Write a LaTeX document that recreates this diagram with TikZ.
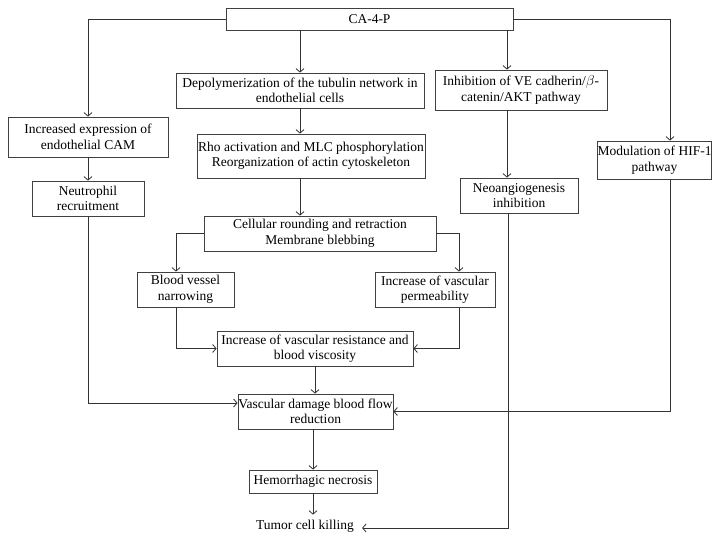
\documentclass[tikz,border=0pt]{standalone}
\usepackage{fontspec}
\setmainfont{Liberation Serif}
\usetikzlibrary{arrows.meta}

\begin{document}
\begin{tikzpicture}[x=1pt, y=-1pt,
  font=\fontsize{13.5}{15.5}\selectfont,
  box/.style={draw=black!75, line width=0.8pt, align=center, inner sep=0pt},
  link/.style={draw=black!80, line width=0.8pt, -{Straight Barb[length=3.5pt,width=8pt]}}]
  \useasboundingbox (0,0) rectangle (725,541);
  \node[box, minimum width=287, minimum height=22] (ca) at (369.5,19) {CA-4-P};
  \node[box, minimum width=248, minimum height=35] (depol) at (300,90.5)
    {Depolymerization of the tubulin network in\\endothelial cells};
  \node[box, minimum width=172, minimum height=40] (inhib) at (521,90)
    {Inhibition of VE cadherin/$\beta$-\\catenin/AKT pathway};
  \node[box, minimum width=160, minimum height=40] (incr) at (88,137)
    {Increased expression of\\endothelial CAM};
  \node[box, minimum width=112, minimum height=35] (neutro) at (88,198.5)
    {Neutrophil\\recruitment};
  \node[box, minimum width=228, minimum height=44] (rho) at (311,156)
    {Rho activation and MLC phosphorylation\\Reorganization of actin cytoskeleton};
  \node[box, minimum width=107, minimum height=38] (mod) at (654.5,160)
    {Modulation of HIF-1\\pathway};
  \node[box, minimum width=118, minimum height=35] (neo) at (519,195.5)
    {Neoangiogenesis\\inhibition};
  \node[box, minimum width=232, minimum height=35] (cell) at (320,233.5)
    {Cellular rounding and retraction\\Membrane blebbing};
  \node[box, minimum width=97, minimum height=35] (vessel) at (185.5,289.5)
    {Blood vessel\\narrowing};
  \node[box, minimum width=120, minimum height=35] (perm) at (435,289.5)
    {Increase of vascular\\permeability};
  \node[box, minimum width=196, minimum height=35] (resist) at (315,348.5)
    {Increase of vascular resistance and\\blood viscosity};
  \node[box, minimum width=155, minimum height=35] (damage) at (315.5,411.5)
    {Vascular damage blood flow\\reduction};
  \node[box, minimum width=128, minimum height=23] (hemo) at (313,481.5)
    {Hemorrhagic necrosis};
  \node[inner xsep=8pt, inner ysep=5pt] (tumor) at (305,526) {Tumor cell killing};

  \draw[link] (ca.west) -| (incr.north);
  \draw[link] (depol.north |- ca.south) -- (depol.north);
  \draw[link] ([xshift=-14]inhib.north |- ca.south) -- ([xshift=-14]inhib.north);
  \draw[link] (ca.east) -| ([xshift=15.5]mod.north);
  \draw[link] (incr.south) -- (neutro.north);
  \draw[link] (depol.south) -- (depol.south |- rho.north);
  \draw[link] (rho.south -| depol.south) -- (depol.south |- cell.north);
  \draw[link] ([xshift=-14]inhib.south) -- ([xshift=-14]inhib.south |- neo.north);
  \draw[link] (cell.west) -| ([xshift=-9.5]vessel.north);
  \draw[link] (cell.east) -| ([xshift=24]perm.north);
  \draw[link] ([xshift=-9.5]vessel.south) |- (resist.west);
  \draw[link] ([xshift=24]perm.south) |- (resist.east);
  \draw[link] (resist.south) -- (resist.south |- damage.north);
  \draw[link] (neutro.south) |- ([yshift=8.5]damage.west);
  \draw[link] ([xshift=15.5]mod.south) |- (damage.east);
  \draw[link] ([xshift=-11]neo.south) |- ([yshift=-2]tumor.east);
  \draw[link] (damage.south -| hemo.north) -- (hemo.north);
  \draw[link] (hemo.south) -- (hemo.south |- tumor.north);
\end{tikzpicture}
\end{document}
